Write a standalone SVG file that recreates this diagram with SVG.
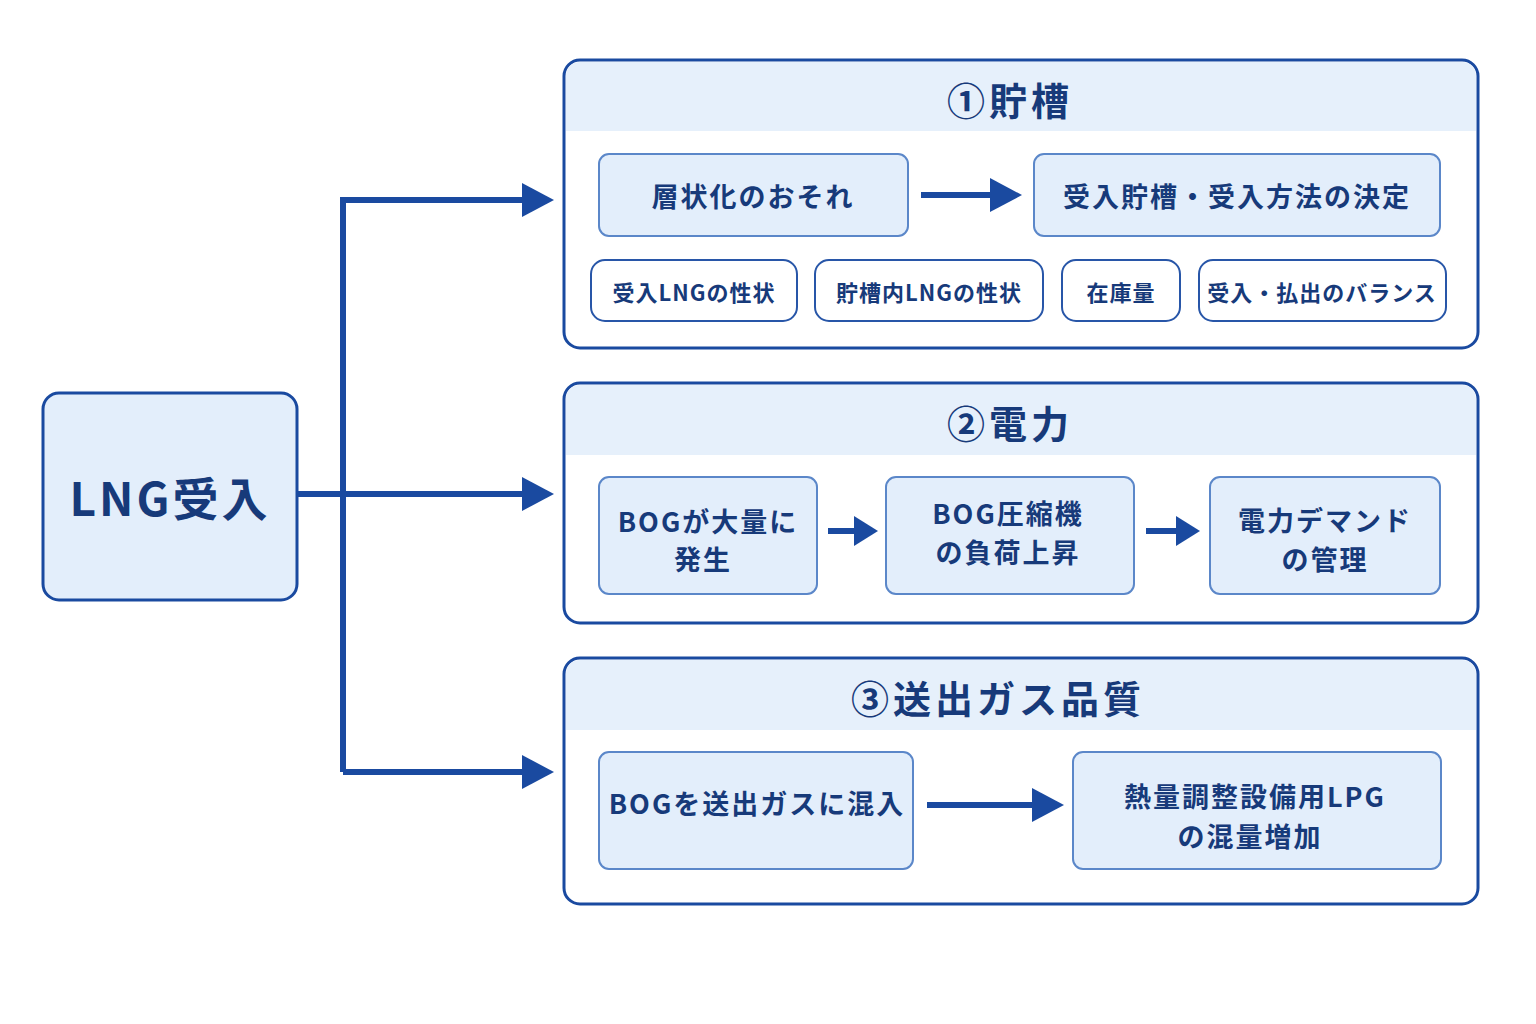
<svg xmlns="http://www.w3.org/2000/svg" width="1536" height="1024" viewBox="0 0 1536 1024">
<defs>
<style>
text{font-family:"Noto Sans CJK JP","Noto Sans",sans-serif;font-weight:700;fill:#173a7a;text-anchor:middle;dominant-baseline:central}
.panel{fill:#fff;stroke:#1a4aa0;stroke-width:3}
.hdr{fill:#e6f0fb}
.box{fill:#e3eefb;stroke:#5b87c9;stroke-width:2}
.tag{fill:#fff;stroke:#2856a8;stroke-width:2}
.ln{stroke:#1a4aa0;stroke-width:6;fill:none}
.ah{fill:#1a4aa0}
.t26{font-size:27px;letter-spacing:2px}
.t22{font-size:22px;letter-spacing:1px}
.h{font-size:38px;letter-spacing:4px}
</style>
</defs>
<rect width="1536" height="1024" fill="#fff"/>
<g id="lng">
<rect x="43" y="393" width="254" height="207" rx="16" fill="#e3eefb" stroke="#1a4aa0" stroke-width="3"/>
<text x="170" y="496" font-size="46" letter-spacing="3">LNG受入</text>
</g>
<g id="p1">
<rect class="panel" x="564" y="60" width="914" height="288" rx="16"/>
<path class="hdr" d="M566,131V76a14,14 0 0 1 14,-14H1462a14,14 0 0 1 14,14V131z"/>
<text class="h" x="1010" y="98">①貯槽</text>
<rect class="box" x="599" y="154" width="309" height="82" rx="10"/><text class="t26" x="753" y="195">層状化のおそれ</text>
<rect class="box" x="1034" y="154" width="406" height="82" rx="10"/><text class="t26" x="1237" y="195">受入貯槽・受入方法の決定</text>
<rect class="tag" x="591" y="260" width="206" height="61" rx="14"/><text class="t22" x="694" y="291">受入LNGの性状</text>
<rect class="tag" x="815" y="260" width="228" height="61" rx="14"/><text class="t22" x="929" y="291">貯槽内LNGの性状</text>
<rect class="tag" x="1062" y="260" width="118" height="61" rx="14"/><text class="t22" x="1121" y="291">在庫量</text>
<rect class="tag" x="1199" y="260" width="247" height="61" rx="14"/><text class="t22" x="1322" y="291">受入・払出のバランス</text>
</g>
<g id="p2">
<rect class="panel" x="564" y="383" width="914" height="240" rx="16"/>
<path class="hdr" d="M566,455V399a14,14 0 0 1 14,-14H1462a14,14 0 0 1 14,14V455z"/>
<text class="h" x="1010" y="421">②電力</text>
<rect class="box" x="599" y="477" width="218" height="117" rx="10"/><text class="t26" x="708" y="520">BOGが大量に</text><text class="t26" x="703" y="558">発生</text>
<rect class="box" x="886" y="477" width="248" height="117" rx="10"/><text class="t26" x="1008" y="512">BOG圧縮機</text><text class="t26" x="1008" y="551">の負荷上昇</text>
<rect class="box" x="1210" y="477" width="230" height="117" rx="10"/><text class="t26" x="1325" y="519">電力デマンド</text><text class="t26" x="1325" y="558">の管理</text>
</g>
<g id="p3">
<rect class="panel" x="564" y="658" width="914" height="246" rx="16"/>
<path class="hdr" d="M566,730V674a14,14 0 0 1 14,-14H1462a14,14 0 0 1 14,14V730z"/>
<text class="h" x="998" y="696">③送出ガス品質</text>
<rect class="box" x="599" y="752" width="314" height="117" rx="10"/><text class="t26" x="757" y="802">BOGを送出ガスに混入</text>
<rect class="box" x="1073" y="752" width="368" height="117" rx="10"/><text class="t26" x="1255" y="795">熱量調整設備用LPG</text><text class="t26" x="1250" y="835">の混量増加</text>
</g>
<g id="connectors">
<path class="ln" d="M298,494H524"/><polygon class="ah" points="522,477 554,494 522,511"/>
<path class="ln" d="M343,772V200H524"/><polygon class="ah" points="522,183 554,200 522,217"/>
<path class="ln" d="M343,772H524"/><polygon class="ah" points="522,755 554,772 522,789"/>
<path class="ln" d="M921,195H992"/><polygon class="ah" points="990,178 1022,195 990,212"/>
<path class="ln" d="M828,531H856"/><polygon class="ah" points="854,516 878,531 854,546"/>
<path class="ln" d="M1146,531H1178"/><polygon class="ah" points="1176,516 1200,531 1176,546"/>
<path class="ln" d="M927,805H1034"/><polygon class="ah" points="1032,788 1064,805 1032,822"/>
</g>
</svg>
